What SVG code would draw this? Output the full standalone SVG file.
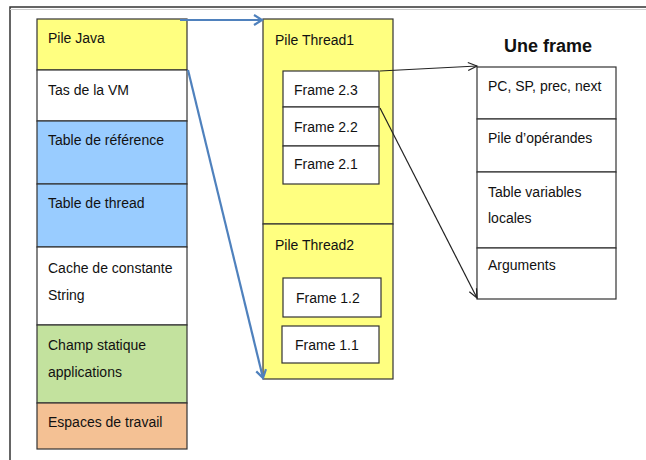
<svg xmlns="http://www.w3.org/2000/svg" width="646" height="460" viewBox="0 0 646 460">
<defs>
<style>
text{font-family:"Liberation Sans",Arial,sans-serif;font-size:14px;fill:#111}
.b{stroke:#333;stroke-width:1.2}
.y{fill:#FFFF80}
.w{fill:#fff}
.bl{fill:#99CCFF}
.g{fill:#C3E29E}
.o{fill:#F4C194}
.blue{stroke:#4F81BD;stroke-width:2.2;fill:none}
.blk{stroke:#222;stroke-width:1.2;fill:none}
</style>
<marker id="ab" markerWidth="12" markerHeight="12" refX="9" refY="6" orient="auto" markerUnits="userSpaceOnUse">
<path d="M1,1 L9,6 L1,11" fill="none" stroke="#4F81BD" stroke-width="2.2"/>
</marker>
<marker id="ak" markerWidth="12" markerHeight="12" refX="10" refY="5" orient="auto" markerUnits="userSpaceOnUse">
<path d="M1,1 L10,5 L1,9" fill="none" stroke="#222" stroke-width="1.2"/>
</marker>
</defs>
<rect width="646" height="460" fill="#fff"/>
<path d="M10,460 V7 H646" fill="none" stroke="#333" stroke-width="1.5"/>
<line x1="10" y1="9.5" x2="646" y2="9.5" stroke="#ccc" stroke-width="1"/>

<g id="pile-java-col">
<rect class="y b" x="37" y="19" width="150" height="51"/>
<text x="48" y="43">Pile Java</text>
<rect class="w b" x="37" y="70" width="150" height="51"/>
<text x="48" y="95">Tas de la VM</text>
<rect class="bl b" x="37" y="121" width="150" height="63"/>
<text x="48" y="145">Table de référence</text>
<rect class="bl b" x="37" y="184" width="150" height="63"/>
<text x="48" y="208">Table de thread</text>
<rect class="w b" x="37" y="247" width="150" height="78"/>
<text x="48" y="273">Cache de constante</text>
<text x="48" y="300">String</text>
<rect class="g b" x="37" y="325" width="150" height="78"/>
<text x="48" y="350">Champ statique</text>
<text x="48" y="377">applications</text>
<rect class="o b" x="37" y="403" width="150" height="46"/>
<text x="48" y="427">Espaces de travail</text>
</g>

<g id="thread1">
<rect class="y b" x="263" y="19" width="130" height="205"/>
<text x="275" y="45">Pile Thread1</text>
<rect class="w b" x="283" y="71" width="96" height="36"/>
<text x="294" y="95">Frame 2.3</text>
<rect class="w b" x="283" y="107" width="96" height="39"/>
<text x="294" y="132">Frame 2.2</text>
<rect class="w b" x="283" y="146" width="96" height="38"/>
<text x="294" y="169">Frame 2.1</text>
</g>

<g id="thread2">
<rect class="y b" x="263" y="224" width="130" height="155"/>
<text x="275" y="250">Pile Thread2</text>
<rect class="w b" x="283" y="278" width="98" height="39"/>
<text x="296" y="303">Frame 1.2</text>
<rect class="w b" x="282" y="326" width="97" height="37"/>
<text x="295" y="350">Frame 1.1</text>
</g>

<g id="une-frame">
<text x="548" y="52" text-anchor="middle" style="font-size:18px;font-weight:bold">Une frame</text>
<rect class="w b" x="477" y="67" width="139" height="52"/>
<text x="488" y="91">PC, SP, prec, next</text>
<rect class="w b" x="477" y="119" width="139" height="53"/>
<text x="488" y="143">Pile d’opérandes</text>
<rect class="w b" x="477" y="172" width="139" height="76"/>
<text x="488" y="197">Table variables</text>
<text x="488" y="223">locales</text>
<rect class="w b" x="477" y="248" width="139" height="51"/>
<text x="488" y="270">Arguments</text>
</g>

<g id="connectors">
<line class="blue" x1="180" y1="20" x2="262" y2="20" marker-end="url(#ab)"/>
<line class="blue" x1="188" y1="70" x2="263" y2="378" marker-end="url(#ab)"/>
<line class="blk" x1="380" y1="71" x2="477" y2="66" marker-end="url(#ak)"/>
<line class="blk" x1="380" y1="108" x2="477" y2="298" marker-end="url(#ak)"/>
</g>
</svg>
